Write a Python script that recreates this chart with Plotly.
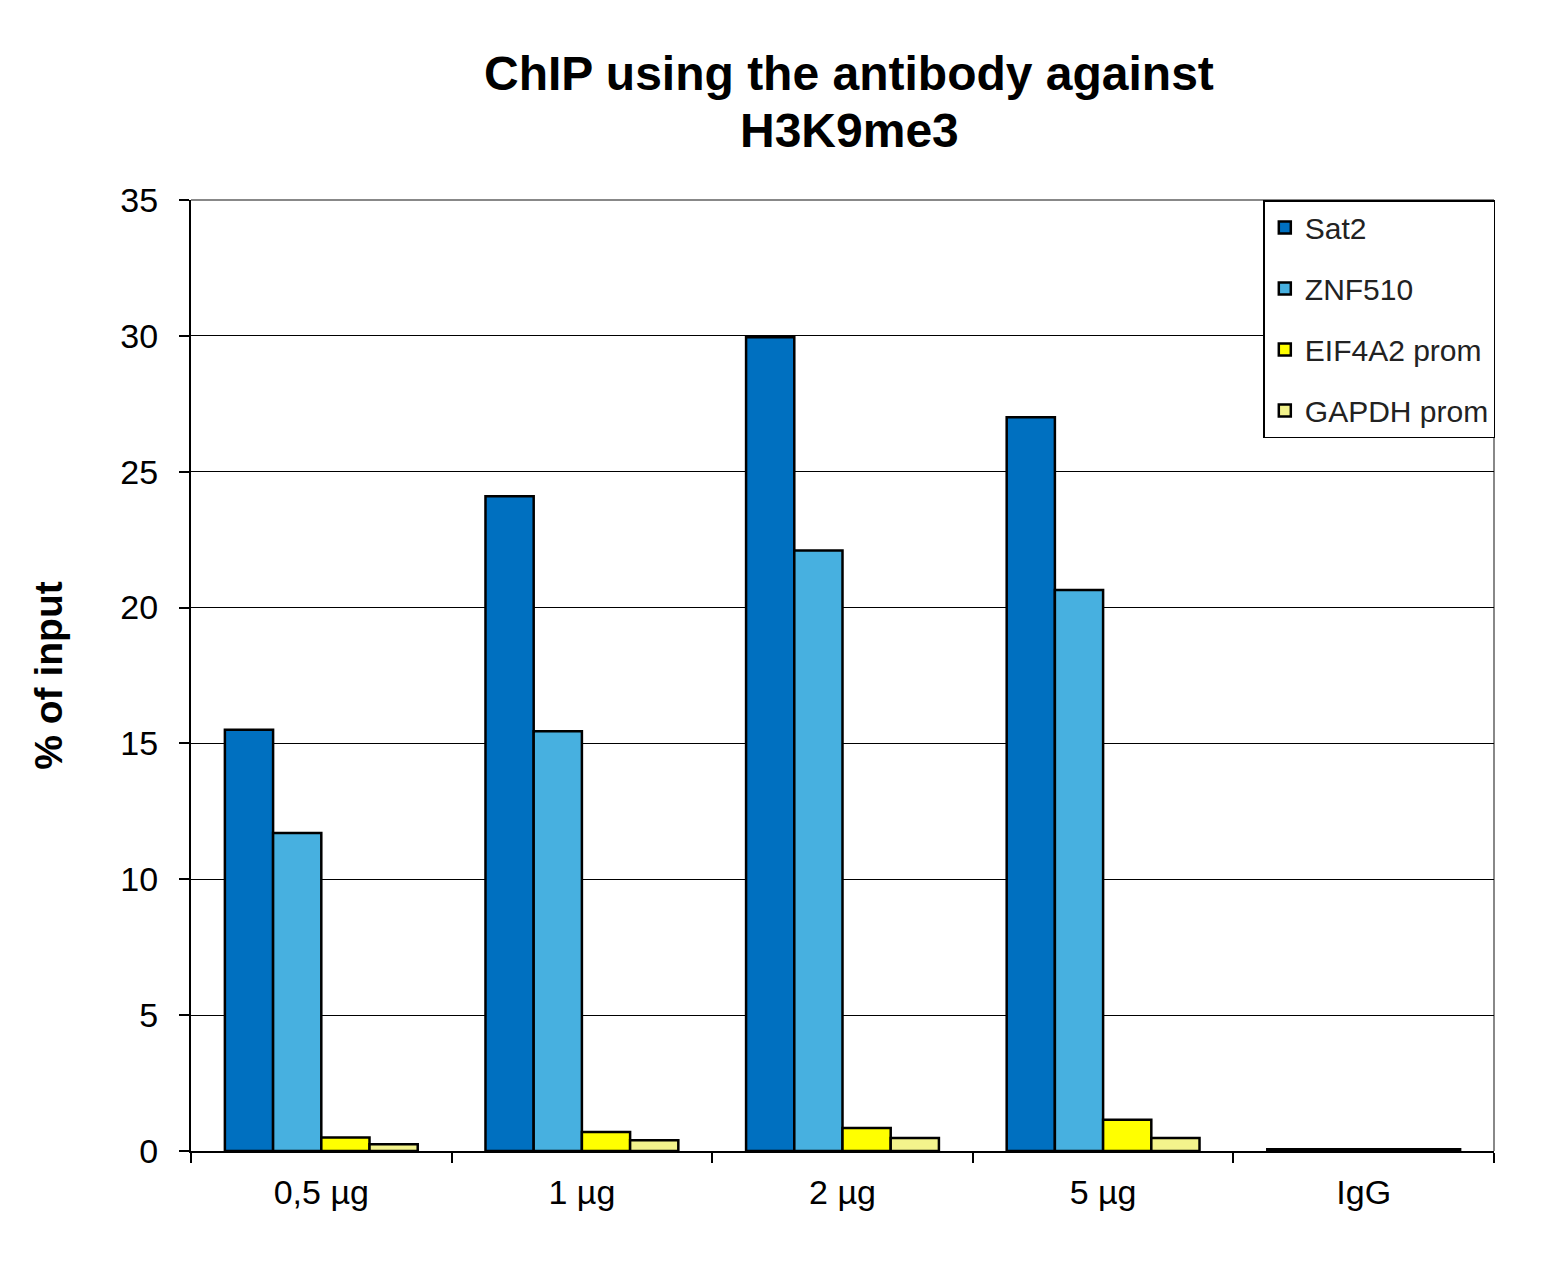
import plotly.graph_objects as go

categories = ["0,5 µg", "1 µg", "2 µg", "5 µg", "IgG"]
sat2 = [15.5, 24.1, 29.95, 27.0, 0.06]
znf510 = [11.7, 15.45, 22.1, 20.65, 0.06]
eif4a2 = [0.5, 0.7, 0.85, 1.15, 0.06]
gapdh = [0.25, 0.4, 0.48, 0.48, 0.06]

series = [
    ("Sat2", sat2, "#0070C0"),
    ("ZNF510", znf510, "#47B0E0"),
    ("EIF4A2 prom", eif4a2, "#FFFF00"),
    ("GAPDH prom", gapdh, "#F3F38C"),
]
title_lines = ["ChIP using the antibody against", "H3K9me3"]

font = "Liberation Sans, Arial, sans-serif"

fig = go.Figure()
for name, vals, color in series:
    fig.add_trace(go.Bar(
        x=categories, y=vals, name=name, legendgroup=name,
        marker=dict(color=color, line=dict(color="black", width=2.5)),
    ))

# page has an 8px body margin, so the figure is sized to fit inside the window
fig.update_layout(
    width=1528, height=1252,
    paper_bgcolor="white", plot_bgcolor="white",
    margin=dict(l=183, r=42, t=192, b=109),
    barmode="group", bargap=0.26, bargroupgap=0,
    font=dict(family=font, color="black", size=34),
    showlegend=True,
    legend=dict(
        x=1.001, xanchor="right", y=1.0, yanchor="top",
        bordercolor="black", borderwidth=1.5, bgcolor="white",
        font=dict(size=30, family=font, color="#222"),
        tracegroupgap=19, itemwidth=30,
    ),
    xaxis=dict(
        showline=True, linecolor="black", linewidth=2,
        ticks="outside", ticklen=10, tickwidth=2, tickcolor="black",
        tickson="boundaries", mirror=False, ticklabelstandoff=10,
        tickfont=dict(size=34),
    ),
    yaxis=dict(
        range=[0, 35], dtick=5, showgrid=True, gridcolor="black", gridwidth=1,
        showline=True, linecolor="black", linewidth=2,
        ticks="outside", ticklen=10, tickwidth=2, tickcolor="black",
        tickfont=dict(size=34), zeroline=False, ticklabelstandoff=14,
        title=dict(text="<b>% of input</b>", font=dict(size=39), standoff=46),
    ),
)

# two-line title as separate annotations to control line spacing
for line, ypos in zip(title_lines, [1.1335, 1.0735]):
    fig.add_annotation(text=f"<b>{line}</b>", xref="paper", yref="paper",
                       x=0.505, y=ypos, xanchor="center", yanchor="middle",
                       showarrow=False, font=dict(size=48, family=font))

# grey frame on the top and right of the plot area
fig.add_shape(type="line", xref="paper", yref="paper", x0=1, x1=1, y0=0, y1=1,
              line=dict(color="#888", width=2), layer="below")
fig.add_shape(type="line", xref="paper", yref="paper", x0=0, x1=1, y0=1, y1=1,
              line=dict(color="#888", width=2), layer="below")

fig.write_html("out.html")
